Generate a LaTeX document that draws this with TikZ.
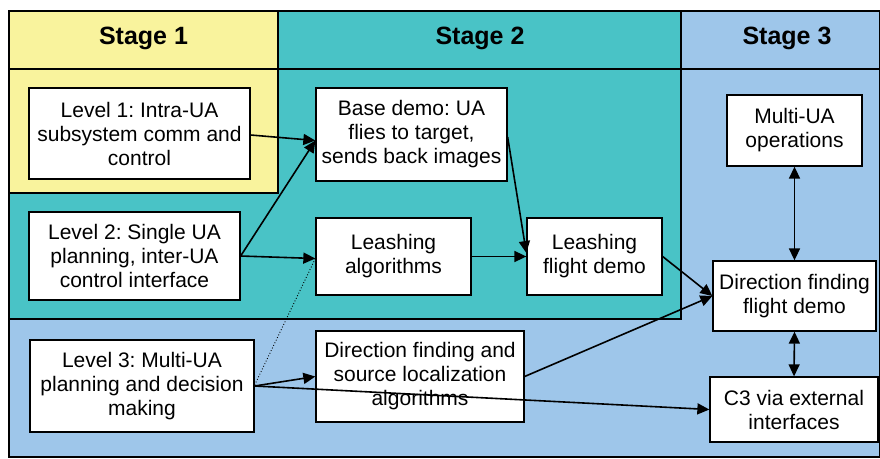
\documentclass[tikz,border=0pt]{standalone}
\usepackage{fontspec}
\setmainfont{Liberation Sans}
\usetikzlibrary{arrows.meta}
\definecolor{stOne}{RGB}{249,243,157}
\definecolor{stTwo}{RGB}{73,195,198}
\definecolor{stThree}{RGB}{158,198,234}
\tikzset{
  box/.style={draw=black, line width=1.3pt, fill=white, align=center, inner sep=0pt,
    font=\fontsize{21}{24}\selectfont},
  hdr/.style={font=\fontsize{25}{28}\selectfont\bfseries, anchor=base, inner sep=0pt},
  arr/.style={line width=1.6pt, -{Triangle[length=12pt,width=11pt]}},
  darr/.style={line width=1.6pt, {Triangle[length=12pt,width=11pt]}-{Triangle[length=12pt,width=11pt]}},
  dotl/.style={line width=0.9pt, dotted},
  frame/.style={line width=1.1pt, draw=black}
}
\frenchspacing
\begin{document}
\frenchspacing
\begin{tikzpicture}[x=1pt,y=-1pt]
\useasboundingbox (0,0) rectangle (880,458);
% regions
\fill[stThree] (9,11) rectangle (880,457);
\fill[stTwo] (278,11) -- (681,11) -- (681,319) -- (9,319) -- (9,193) -- (278,193) -- cycle;
\fill[stOne] (9,11) rectangle (278,193);
\draw[frame] (278,11) -- (278,193) -- (9,193);
\draw[frame] (681,11) -- (681,319) -- (9,319);
\draw[frame] (9,69) -- (880,69);
\draw[frame] (9,11) rectangle (880,457);
% headers
\node[hdr] (h1) at (143.5,44) {Stage 1};
\node[hdr] (h2) at (480,44) {Stage 2};
\node[hdr] (h3) at (787,44) {Stage 3};
% nodes
\node[box, minimum width=221pt, minimum height=91pt] (L1) at (139.5,133.5) {Level 1: Intra-UA\\subsystem comm and\\control};
\node[box, minimum width=211pt, minimum height=88pt] (L2) at (134.5,256) {Level 2: Single UA\\planning, inter-UA\\control interface};
\node[box, minimum width=224pt, minimum height=92pt] (L3) at (142,386) {Level 3: Multi-UA\\planning and decision\\making};
\node[box, minimum width=191pt, minimum height=93pt] (Base) at (411.5,134.5) {Base demo: UA\\flies to target,\\sends back images};
\node[box, minimum width=155pt, minimum height=77pt] (LA) at (393.5,256.5) {Leashing\\algorithms};
\node[box, minimum width=135pt, minimum height=77pt] (LF) at (594.5,256.5) {Leashing\\flight demo};
\node[box, minimum width=208pt, minimum height=91pt] (DFA) at (420,376.5) {Direction finding and\\source localization\\algorithms};
\node[box, minimum width=135pt, minimum height=71pt] (MU) at (794.5,130.5) {Multi-UA\\operations};
\node[box, minimum width=163pt, minimum height=70pt] (DFF) at (794.5,296) {Direction finding\\flight demo};
\node[box, minimum width=168pt, minimum height=65pt] (C3) at (794,409.5) {C3 via external\\interfaces};
% connectors
\draw[arr] ([yshift=-1.5pt]L1.east) -- ([yshift=-6pt]Base.west);
\draw[arr] (L2.east) -- ([yshift=-6pt]Base.west);
\draw[arr] (L2.east) -- ([yshift=-2pt]LA.west);
\draw[dotl] ([yshift=1pt]L3.east) -- ([yshift=-2pt]LA.west);
\draw[arr] (L3.east) -- (DFA.west);
\draw[arr] (L3.east) -- (C3.west);
\draw[arr] ([yshift=-2.5pt]Base.east) -- ([yshift=3.5pt]LF.west);
\draw[arr] (LA.east) -- (LF.west);
\draw[arr] (LF.east) -- (DFF.west);
\draw[arr] (DFA.east) -- (DFF.west);
\draw[darr] (MU.south) -- (DFF.north);
\draw[darr] (DFF.south) -- (C3.north);
\end{tikzpicture}
\end{document}
